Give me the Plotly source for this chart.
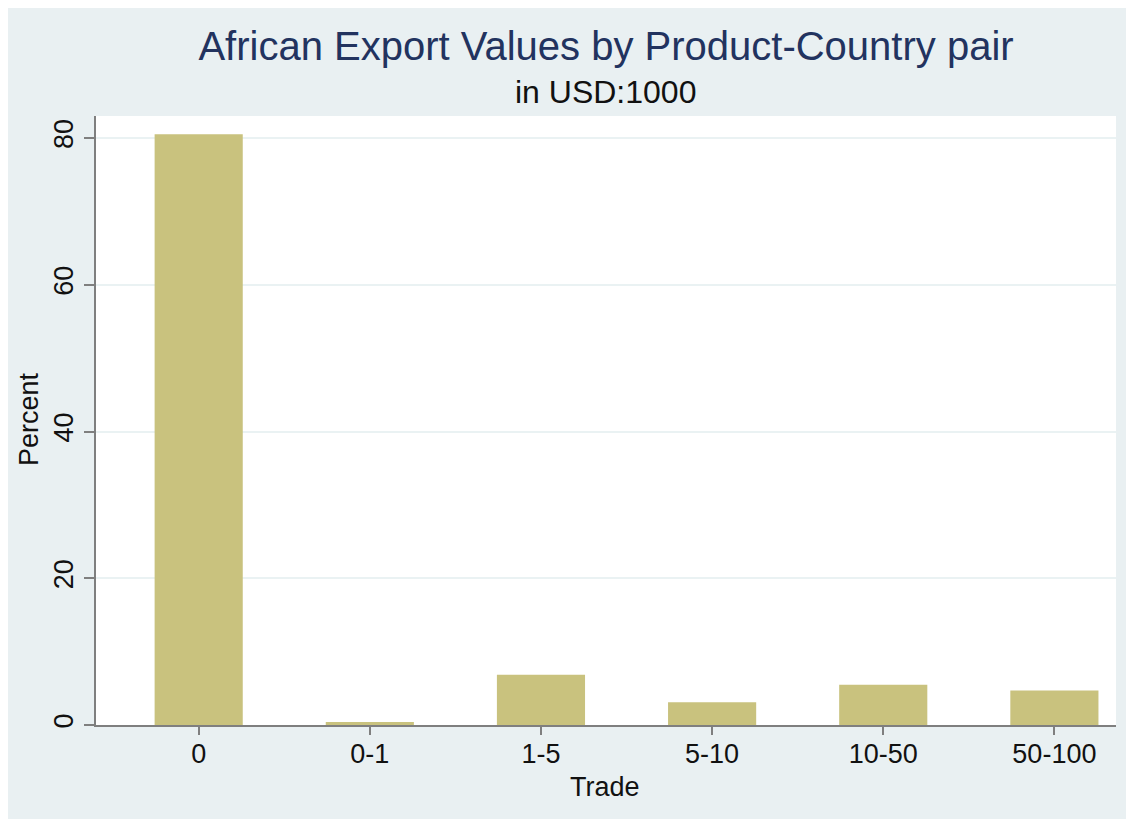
import plotly.graph_objects as go

categories = ["0", "0-1", "1-5", "5-10", "10-50", "50-100"]
percent = [80.5, 0.4, 6.85, 3.1, 5.5, 4.7]
y_ticks = [0, 20, 40, 60, 80]

# page body has an 8px margin; positions below are in reference-page px
OX, OY = 8, 9
W, H = 1134 - OX, 819 - OY + 1
L, R, T, B = 96 - OX, 1116 - OX, 117 - OY, 726 - OY  # plot area in figure px

def px_x(px):
    return (px - OX - L) / (R - L)

def px_y(py):
    return (B - (py - OY)) / (B - T)

BG = "#E9F0F2"
BAR = "#C9C27E"
AX = "#7F7F7F"
FONT = "Liberation Sans, Arial, Helvetica, sans-serif"

fig = go.Figure(go.Bar(
    x=categories, y=percent,
    marker=dict(color=BAR, line=dict(width=0)),
))

fig.update_layout(
    width=W, height=H,
    margin=dict(l=L, r=W - R, t=T, b=H - B, pad=0),
    paper_bgcolor=BG, plot_bgcolor="white",
    bargap=0.485,
    showlegend=False,
    font=dict(family=FONT, color="#111111"),
    title=dict(text="African Export Values by Product-Country pair",
               x=0.5, xref="paper", xanchor="center",
               y=1 - (47 - OY) / H, yref="container", yanchor="middle",
               font=dict(size=40, color="#22335F", family=FONT)),
    xaxis=dict(
        type="category", range=[-0.6, 5.36],
        showline=True, linecolor=AX, linewidth=2,
        ticks="outside", ticklen=8, tickwidth=2, tickcolor=AX,
        tickfont=dict(size=27, color="#111111"),
        showgrid=False, zeroline=False, fixedrange=True,
        ticklabelstandoff=-4,
    ),
    yaxis=dict(
        range=[0, 83], tickvals=y_ticks, ticktext=[str(v) for v in y_ticks],
        showline=True, linecolor=AX, linewidth=2,
        ticks="outside", ticklen=10, tickwidth=2, tickcolor=AX,
        tickangle=-90,
        tickfont=dict(size=27, color="#111111"),
        showgrid=True, gridcolor="#EAF2F3", gridwidth=2,
        zeroline=False, fixedrange=True,
        ticklabelstandoff=0,
    ),
    annotations=[
        dict(text="in USD:1000", xref="paper", yref="paper",
             x=px_x(605), y=px_y(93), xanchor="center", yanchor="middle",
             showarrow=False, font=dict(size=32, color="#111111", family=FONT)),
        dict(text="Trade", xref="paper", yref="paper",
             x=px_x(605), y=px_y(788), xanchor="center", yanchor="middle",
             showarrow=False, font=dict(size=27, color="#111111", family=FONT)),
        dict(text="Percent", xref="paper", yref="paper", textangle=-90,
             x=px_x(29), y=px_y(420), xanchor="center", yanchor="middle",
             showarrow=False, font=dict(size=27, color="#111111", family=FONT)),
    ],
)

fig.write_html("out.html")
